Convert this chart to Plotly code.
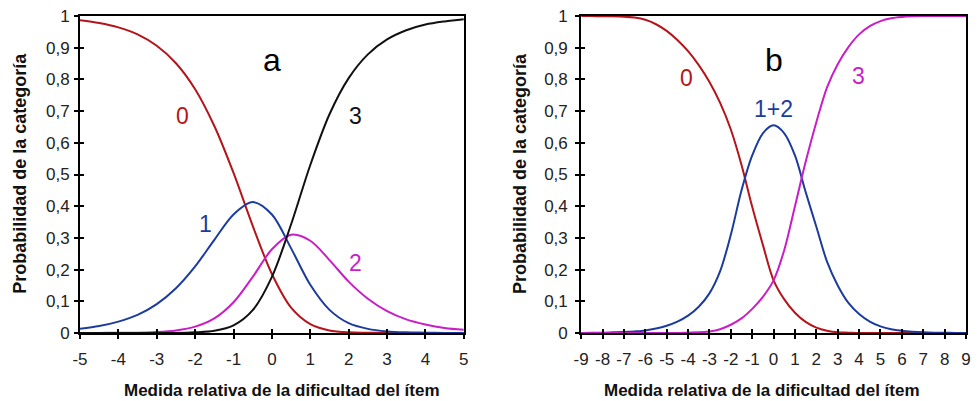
import plotly.graph_objects as go

# ---------------- data ----------------
x_a = [-5, -4.5, -4, -3.5, -3, -2.5, -2, -1.5, -1, -0.5, 0, 0.5, 1, 1.5, 2, 2.5, 3, 3.5, 4, 4.5, 5]
a_cat0 = [0.987, 0.978, 0.964, 0.942, 0.906, 0.851, 0.769, 0.653, 0.505, 0.338, 0.186, 0.080, 0.028, 0.008, 0.002, 0.001, 0.000, 0.000, 0.000, 0.000, 0.000]
a_cat1 = [0.013, 0.022, 0.036, 0.057, 0.091, 0.141, 0.210, 0.294, 0.374, 0.413, 0.374, 0.267, 0.152, 0.073, 0.031, 0.013, 0.005, 0.002, 0.001, 0.000, 0.000]
a_cat2 = [0.000, 0.000, 0.001, 0.001, 0.003, 0.008, 0.020, 0.046, 0.097, 0.177, 0.264, 0.310, 0.291, 0.230, 0.162, 0.108, 0.069, 0.043, 0.027, 0.016, 0.010]
a_cat3 = [0.000, 0.000, 0.000, 0.000, 0.000, 0.000, 0.002, 0.007, 0.024, 0.072, 0.177, 0.343, 0.530, 0.690, 0.804, 0.879, 0.926, 0.955, 0.973, 0.983, 0.990]

x_b = [-9, -8.5, -8, -7.5, -7, -6.5, -6, -5.5, -5, -4.5, -4, -3.5, -3, -2.5, -2, -1.5, -1, -0.5, 0,
       0.5, 1, 1.5, 2, 2.5, 3, 3.5, 4, 4.5, 5, 5.5, 6, 6.5, 7, 7.5, 8, 8.5, 9]
b_cat0 = [1.000, 1.000, 0.999, 0.999, 0.998, 0.995, 0.988, 0.974, 0.953, 0.924, 0.889, 0.845, 0.792, 0.726, 0.642, 0.530, 0.398, 0.278, 0.166,
          0.106, 0.064, 0.035, 0.017, 0.007, 0.002, 0.001, 0.000, 0.000, 0.000, 0.000, 0.000, 0.000, 0.000, 0.000, 0.000, 0.000, 0.000]
b_cat12 = [0.000, 0.001, 0.001, 0.002, 0.003, 0.005, 0.008, 0.014, 0.023, 0.036, 0.055, 0.083, 0.125, 0.195, 0.310, 0.450, 0.560, 0.630, 0.655,
           0.630, 0.560, 0.445, 0.335, 0.225, 0.150, 0.095, 0.060, 0.036, 0.021, 0.012, 0.007, 0.004, 0.002, 0.001, 0.001, 0.000, 0.000]
b_cat3 = [0.000, 0.000, 0.000, 0.000, 0.000, 0.000, 0.000, 0.000, 0.000, 0.000, 0.001, 0.002, 0.005, 0.012, 0.026, 0.046, 0.076, 0.114, 0.166,
          0.262, 0.400, 0.540, 0.665, 0.775, 0.848, 0.902, 0.942, 0.968, 0.984, 0.993, 0.997, 0.999, 1.000, 1.000, 1.000, 1.000, 1.000]

y_tickvals = [0, 0.1, 0.2, 0.3, 0.4, 0.5, 0.6, 0.7, 0.8, 0.9, 1]
y_ticktext = ["0", "0,1", "0,2", "0,3", "0,4", "0,5", "0,6", "0,7", "0,8", "0,9", "1"]
xa_tickvals = [-5, -4, -3, -2, -1, 0, 1, 2, 3, 4, 5]
xa_ticktext = ["-5", "-4", "-3", "-2", "-1", "0", "1", "2", "3", "4", "5"]
xb_tickvals = [-9, -8, -7, -6, -5, -4, -3, -2, -1, 0, 1, 2, 3, 4, 5, 6, 7, 8, 9]
xb_ticktext = ["-9", "-8", "-7", "-6", "-5", "-4", "-3", "-2", "-1", "0", "1", "2", "3", "4", "5", "6", "7", "8", "9"]

x_title = "Medida relativa de la dificultad del ítem"
y_title = "Probabilidad de la categoría"

RED = "#B5141B"
BLUE = "#1C3C9C"
MAG = "#C81EC8"
BLACK = "#111111"
FONT = "Liberation Sans, Arial, sans-serif"

fig = go.Figure()

def add_line(x, y, color, xa, ya):
    fig.add_trace(go.Scatter(x=x, y=y, mode="lines", line=dict(color=color, width=2, shape="spline", smoothing=0.9),
                             xaxis=xa, yaxis=ya, showlegend=False, hoverinfo="skip"))

add_line(x_a, a_cat0, RED, "x", "y")
add_line(x_a, a_cat1, BLUE, "x", "y")
add_line(x_a, a_cat2, MAG, "x", "y")
add_line(x_a, a_cat3, BLACK, "x", "y")
add_line(x_b, b_cat0, RED, "x2", "y2")
add_line(x_b, b_cat12, BLUE, "x2", "y2")
add_line(x_b, b_cat3, MAG, "x2", "y2")
# invisible traces so the overlay axes (inside half of the crossing ticks) are drawn
fig.add_trace(go.Scatter(x=[None], y=[None], xaxis="x3", yaxis="y3", showlegend=False))
fig.add_trace(go.Scatter(x=[None], y=[None], xaxis="x4", yaxis="y4", showlegend=False))

W, H = 978, 401
ML, MR, MT, MB = 80, 7, 13, 68
PW = W - ML - MR
dom_a = [0, (466 - ML) / PW]
dom_b = [(584 - ML) / PW, 1]

tickfont = dict(family=FONT, size=17, color="#222222")
common = dict(showgrid=False, zeroline=False, ticks="outside", ticklen=4, tickwidth=2, tickcolor="black")

fig.update_layout(
    width=W, height=H, margin=dict(l=ML, r=MR, t=MT, b=MB),
    paper_bgcolor="white", plot_bgcolor="white",
    xaxis=dict(domain=dom_a, range=[-5, 5], tickvals=xa_tickvals, ticktext=xa_ticktext, anchor="y",
               showline=True, linewidth=2, linecolor="black", mirror=True, tickfont=tickfont,
               ticklabelstandoff=6, **common),
    yaxis=dict(domain=[0, 1], range=[0, 1], tickvals=y_tickvals, ticktext=y_ticktext, anchor="x",
               showline=True, linewidth=2, linecolor="black", mirror=True, tickfont=tickfont,
               ticklabelstandoff=1, **common),
    xaxis2=dict(domain=dom_b, range=[-9, 9], tickvals=xb_tickvals, ticktext=xb_ticktext, anchor="y2",
                showline=True, linewidth=2, linecolor="black", mirror=True, tickfont=tickfont,
                ticklabelstandoff=6, **common),
    yaxis2=dict(domain=[0, 1], range=[0, 1], tickvals=y_tickvals, ticktext=y_ticktext, anchor="x2",
                showline=True, linewidth=2, linecolor="black", mirror=True, tickfont=tickfont,
                ticklabelstandoff=4, **common),
    xaxis3=dict(overlaying="x", anchor="y", range=[-5, 5], tickvals=xa_tickvals, showticklabels=False,
                showgrid=False, zeroline=False, showline=False, ticks="inside", ticklen=4, tickwidth=2, tickcolor="black"),
    yaxis3=dict(overlaying="y", anchor="x", range=[0, 1], tickvals=y_tickvals, showticklabels=False,
                showgrid=False, zeroline=False, showline=False, ticks="inside", ticklen=4, tickwidth=2, tickcolor="black"),
    xaxis4=dict(overlaying="x2", anchor="y2", range=[-9, 9], tickvals=xb_tickvals, showticklabels=False,
                showgrid=False, zeroline=False, showline=False, ticks="inside", ticklen=4, tickwidth=2, tickcolor="black"),
    yaxis4=dict(overlaying="y2", anchor="x2", range=[0, 1], tickvals=y_tickvals, showticklabels=False,
                showgrid=False, zeroline=False, showline=False, ticks="inside", ticklen=4, tickwidth=2, tickcolor="black"),
)

def px2paper_x(px):
    return (px - ML) / PW

def px2paper_y(py):
    return (H - MB - py) / (H - MT - MB)

ann = []
# axis titles
for cx in (283, 766):
    ann.append(dict(text="<b>" + x_title + "</b>", x=px2paper_x(cx), y=px2paper_y(391), xref="paper", yref="paper",
                    xanchor="center", yanchor="middle", showarrow=False, font=dict(family=FONT, size=17, color="#111111")))
for cx in (19, 522):
    ann.append(dict(text="<b>" + y_title + "</b>", x=px2paper_x(cx), y=px2paper_y(172), xref="paper", yref="paper",
                    xanchor="center", yanchor="middle", textangle=-90, showarrow=False,
                    font=dict(family=FONT, size=18, color="#111111")))
# panel letters and curve labels
labels = [
    ("a", 0, 0.86, "x", "y", "black", 32),
    ("0", -2.34, 0.684, "x", "y", RED, 23),
    ("1", -1.72, 0.344, "x", "y", BLUE, 23),
    ("2", 2.17, 0.222, "x", "y", MAG, 23),
    ("3", 2.17, 0.684, "x", "y", BLACK, 23),
    ("b", 0, 0.86, "x2", "y2", "black", 32),
    ("0", -4.07, 0.806, "x2", "y2", RED, 23),
    ("1+2", 0, 0.706, "x2", "y2", BLUE, 23),
    ("3", 3.98, 0.812, "x2", "y2", MAG, 23),
]
for t, x, y, xr, yr, c, s in labels:
    ann.append(dict(text=t, x=x, y=y, xref=xr, yref=yr, xanchor="center", yanchor="middle", showarrow=False,
                    font=dict(family=FONT, size=s, color=c)))
fig.update_layout(annotations=ann)

fig.write_html("out.html")
